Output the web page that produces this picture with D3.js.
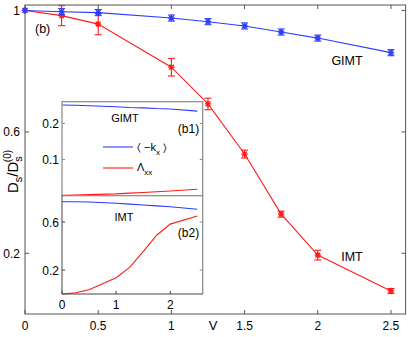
<!DOCTYPE html>
<html><head><meta charset="utf-8">
<script src="https://cdn.jsdelivr.net/npm/d3@7"></script>
<style>
html,body{margin:0;padding:0;background:#fff;}
svg{display:block;font-family:"Liberation Sans",Arial,Helvetica,sans-serif;}
</style></head>
<body>
<svg id="c" width="415" height="337"></svg>
<script>
// ---- data ----
const vMain = [0, 0.25, 0.5, 1, 1.25, 1.5, 1.75, 2, 2.5];
const gimtVals = [1.0, 0.996, 0.993, 0.975, 0.963, 0.949, 0.929, 0.909, 0.861];
const gimtErr  = [0, 0.01, 0.01, 0.01, 0.01, 0.01, 0.01, 0.01, 0.01];
const imtVals  = [1.0, 0.983, 0.955, 0.813, 0.692, 0.527, 0.329, 0.194, 0.076];
const imtErr   = [0, 0.033, 0.035, 0.029, 0.019, 0.013, 0.01, 0.016, 0.008];
const xTicks = [0, 0.5, 1, 1.5, 2, 2.5];
const yTicks = [0.2, 0.6, 1];

const vInset = [0, 0.25, 0.5, 1, 1.25, 1.5, 1.75, 2, 2.5];
const b1Kx  = [0.251, 0.250, 0.249, 0.246, 0.244, 0.243, 0.241, 0.240, 0.234];
const b1Lxx = [0.001, 0.002, 0.003, 0.005, 0.007, 0.009, 0.011, 0.013, 0.018];
const b2Kx  = [0.770, 0.769, 0.767, 0.757, 0.750, 0.742, 0.735, 0.728, 0.707];
const b2Lxx = [0.0, 0.01, 0.035, 0.136, 0.222, 0.353, 0.49, 0.583, 0.65];
const insetXTicks = [0, 1, 2];
const b1YTicks = [0.1, 0.2];
const b2YTicks = [0.2, 0.6];

const BLUE = "#2b3cff", RED = "#ff1a1a";
const svg = d3.select("#c");

// ---- main axes ----
const x = d3.scaleLinear().domain([0, 2.6]).range([25, 405.6]);
const y = d3.scaleLinear().domain([0, 1.018]).range([314, 5]);
const frameCol = "#555";
const tl = 4;
const main = svg.append("g");
xTicks.forEach(t => {
  main.append("line").attr("x1", x(t)).attr("x2", x(t)).attr("y1", y.range()[0]).attr("y2", y.range()[0]-tl).attr("stroke", frameCol);
  main.append("line").attr("x1", x(t)).attr("x2", x(t)).attr("y1", y.range()[1]).attr("y2", y.range()[1]+tl).attr("stroke", frameCol);
  main.append("text").attr("x", x(t)).attr("y", 330).attr("text-anchor", "middle").attr("font-size", 12).text(t);
});
yTicks.forEach(t => {
  main.append("line").attr("x1", x.range()[0]).attr("x2", x.range()[0]+tl).attr("y1", y(t)).attr("y2", y(t)).attr("stroke", frameCol);
  main.append("line").attr("x1", x.range()[1]).attr("x2", x.range()[1]-tl).attr("y1", y(t)).attr("y2", y(t)).attr("stroke", frameCol);
  main.append("text").attr("x", 20).attr("y", y(t)+4.5).attr("text-anchor", "end").attr("font-size", 12).text(t);
});
main.append("rect").attr("x", x.range()[0]).attr("y", y.range()[1]).attr("width", x.range()[1]-x.range()[0]).attr("height", y.range()[0]-y.range()[1]).attr("fill", "none").attr("stroke", frameCol);

main.append("text").attr("x", 213).attr("y", 330).attr("text-anchor", "middle").attr("font-size", 13).text("V");

// y label
const yl = main.append("text").attr("transform", "translate(18,193) rotate(-90)").attr("font-size", 15);
yl.append("tspan").text("D");
yl.append("tspan").attr("font-size", 11).attr("dy", 4).text("s");
yl.append("tspan").attr("dy", -4).text("/D");
yl.append("tspan").attr("font-size", 11).attr("dy", 4).text("s");
yl.append("tspan").attr("font-size", 10).attr("dx", -6).attr("dy", -11).text("(0)");

function asterisk(g, cx, cy, col) {
  const r = 3.2, d = r*0.75;
  const p = `M${cx-r},${cy}L${cx+r},${cy}M${cx},${cy-r}L${cx},${cy+r}M${cx-d},${cy-d}L${cx+d},${cy+d}M${cx-d},${cy+d}L${cx+d},${cy-d}`;
  g.append("path").attr("d", p).attr("stroke", col).attr("stroke-width", 1.3).attr("fill", "none");
}
function series(vals, errs, col) {
  const g = main.append("g");
  const line = d3.line().x((d,i) => x(vMain[i])).y(d => y(d));
  g.append("path").datum(vals).attr("d", line).attr("fill", "none").attr("stroke", col).attr("stroke-width", 1.1);
  vals.forEach((v, i) => {
    const e = errs[i], cx = x(vMain[i]);
    if (e > 0) {
      g.append("line").attr("x1", cx).attr("x2", cx).attr("y1", y(v+e)).attr("y2", y(v-e)).attr("stroke", col).attr("stroke-width", 1.1);
      [v+e, v-e].forEach(yy => g.append("line").attr("x1", cx-3.5).attr("x2", cx+3.5).attr("y1", y(yy)).attr("y2", y(yy)).attr("stroke", col).attr("stroke-width", 1.1));
    }
    asterisk(g, cx, y(v), col);
  });
}
series(imtVals, imtErr, RED);
series(gimtVals, gimtErr, BLUE);

main.append("text").attr("x", 35).attr("y", 33).attr("font-size", 12.5).text("(b)");
main.append("text").attr("x", 347).attr("y", 64.5).attr("text-anchor", "middle").attr("font-size", 12.5).text("GIMT");
main.append("text").attr("x", 352).attr("y", 260.5).attr("text-anchor", "middle").attr("font-size", 12.5).text("IMT");

// ---- inset ----
const xi = d3.scaleLinear().domain([0, 2.6]).range([62, 202.7]);
const y1 = d3.scaleLinear().domain([0, 0.26]).range([195.7, 101.7]);
const y2 = d3.scaleLinear().domain([0, 0.82]).range([294, 195.7]);
const ins = svg.append("g");
ins.append("rect").attr("x", 62).attr("y", 101.7).attr("width", 140.7).attr("height", 192.3).attr("fill", "#fff");
const inCol = "#888", inDark = "#444";
const itl = 3;
function drawLine(g, xs, ys, sc, col) {
  const l = d3.line().x((d,i) => xi(xs[i])).y(d => sc(d));
  g.append("path").datum(ys).attr("d", l).attr("fill", "none").attr("stroke", col).attr("stroke-width", 1.1);
}
drawLine(ins, vInset, b1Kx, y1, BLUE);
drawLine(ins, vInset, b1Lxx, y1, RED);
drawLine(ins, vInset, b2Kx, y2, BLUE);
drawLine(ins, vInset, b2Lxx, y2, RED);
ins.append("rect").attr("x", 62).attr("y", 101.7).attr("width", 140.7).attr("height", 94).attr("fill", "none").attr("stroke", inCol).attr("stroke-width", 1.2);
ins.append("line").attr("x1", 202.7).attr("x2", 202.7).attr("y1", 195.7).attr("y2", 294).attr("stroke", inCol).attr("stroke-width", 1.2);
ins.append("line").attr("x1", 62).attr("x2", 62).attr("y1", 195.7).attr("y2", 294).attr("stroke", inDark);
ins.append("line").attr("x1", 62).attr("x2", 202.7).attr("y1", 294).attr("y2", 294).attr("stroke", inDark);
b1YTicks.forEach(t => {
  ins.append("line").attr("x1", 62).attr("x2", 62+itl).attr("y1", y1(t)).attr("y2", y1(t)).attr("stroke", inCol);
  ins.append("line").attr("x1", 202.7).attr("x2", 202.7-itl).attr("y1", y1(t)).attr("y2", y1(t)).attr("stroke", inCol);
  ins.append("text").attr("x", 59).attr("y", y1(t)+4.5).attr("text-anchor", "end").attr("font-size", 12).text(t);
});
b2YTicks.forEach(t => {
  ins.append("line").attr("x1", 62).attr("x2", 62+itl).attr("y1", y2(t)).attr("y2", y2(t)).attr("stroke", inDark);
  ins.append("line").attr("x1", 202.7).attr("x2", 202.7-itl).attr("y1", y2(t)).attr("y2", y2(t)).attr("stroke", inCol);
  ins.append("text").attr("x", 59).attr("y", y2(t)+4.5).attr("text-anchor", "end").attr("font-size", 12).text(t);
});
insetXTicks.forEach(t => {
  ins.append("line").attr("x1", xi(t)).attr("x2", xi(t)).attr("y1", 294).attr("y2", 294-itl).attr("stroke", inDark);
  ins.append("text").attr("x", xi(t)).attr("y", 309).attr("text-anchor", "middle").attr("font-size", 12).text(t);
});
ins.append("text").attr("x", 125).attr("y", 122).attr("text-anchor", "middle").attr("font-size", 11).text("GIMT");
ins.append("text").attr("x", 188.5).attr("y", 132.5).attr("text-anchor", "middle").attr("font-size", 12).text("(b1)");
ins.append("text").attr("x", 124).attr("y", 221).attr("text-anchor", "middle").attr("font-size", 11).text("IMT");
ins.append("text").attr("x", 188.5).attr("y", 237).attr("text-anchor", "middle").attr("font-size", 12).text("(b2)");
// legend
ins.append("line").attr("x1", 103).attr("x2", 133).attr("y1", 147).attr("y2", 147).attr("stroke", BLUE).attr("stroke-width", 1.1);
ins.append("line").attr("x1", 103).attr("x2", 133).attr("y1", 168).attr("y2", 168).attr("stroke", RED).attr("stroke-width", 1.1);
const l1 = ins.append("text").attr("x", 137).attr("y", 151).attr("font-size", 11);
l1.append("tspan").text("\u2329 \u2212k");
l1.append("tspan").attr("font-size", 8).attr("dy", 4).text("x");
l1.append("tspan").attr("dy", -4).text(" \u232A");
const l2 = ins.append("text").attr("x", 137).attr("y", 171).attr("font-size", 11);
l2.append("tspan").text("\u039B");
l2.append("tspan").attr("font-size", 8).attr("dy", 4).text("xx");
</script>
</body></html>
